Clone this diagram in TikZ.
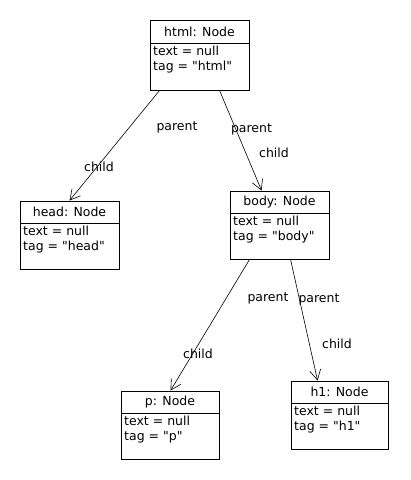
\documentclass[tikz,border=0pt]{standalone}
\usepackage{fontspec}
\newfontfamily\dvsans{DejaVu Sans}
\usetikzlibrary{arrows.meta,calc}
\begin{document}
\begin{tikzpicture}[x=1bp,y=-1bp,
  every node/.style={font=\dvsans\fontsize{12.5bp}{15.5bp}\selectfont, inner sep=0pt},
  umlbox/.style={draw, line width=0.9bp, minimum width=#1, minimum height=68bp},
  umlbox/.default=99bp,
  divider/.style={line width=0.9bp},
  title/.style={anchor=center},
  attrs/.style={anchor=north west, align=left},
  assoc/.style={draw, line width=0.6bp, -{Straight Barb[length=10bp,width=11bp,line width=0.6bp]}},
  lbl/.style={anchor=center}
]
\useasboundingbox (0,0) rectangle (410,480);
% html
\node[umlbox, minimum height=70bp] (html) at (199.5,55) {};
\draw[divider] (150,43) -- (249,43);
\node[title] (htmlt) at (199.5,31.5) {html: Node};
\node[attrs] (htmla) at (153,45.5) {text = null\\tag = "html"};
% head
\node[umlbox] (head) at (69.5,235) {};
\draw[divider] (20,223) -- (119,223);
\node[title] (headt) at (69.5,212) {head: Node};
\node[attrs] (heada) at (23,225.5) {text = null\\tag = "head"};
% body
\node[umlbox] (body) at (279.5,225) {};
\draw[divider] (230,213) -- (329,213);
\node[title] (bodyt) at (279.5,202) {body: Node};
\node[attrs] (bodya) at (233,215.5) {text = null\\tag = "body"};
% p
\node[umlbox, minimum width=98bp] (p) at (170,425) {};
\draw[divider] (121,413) -- (219,413);
\node[title] (pt) at (170,402) {p: Node};
\node[attrs] (pa) at (124,415.5) {text = null\\tag = "p"};
% h1
\node[umlbox, minimum width=97bp] (h1) at (339.5,415) {};
\draw[divider] (291,403) -- (388,403);
\node[title] (h1t) at (339.5,392) {h1: Node};
\node[attrs] (h1a) at (294,405.5) {text = null\\tag = "h1"};
% connectors
\draw[assoc] ($(html.south west)+(10,0)$) -- ($(head.north west)+(50,0)$);
\draw[assoc] ($(html.south west)+(70,0)$) -- ($(body.north west)+(32,0)$);
\draw[assoc] ($(body.south west)+(20,0)$) -- ($(p.north west)+(50,0)$);
\draw[assoc] ($(body.south west)+(61,0)$) -- ($(h1.north west)+(27,0)$);
% labels
\node[lbl] (l1) at (177,127) {parent};
\node[lbl] (l2) at (99,167) {child};
\node[lbl] (l3) at (251.5,129) {parent};
\node[lbl] (l4) at (274,153) {child};
\node[lbl] (l5) at (268,298) {parent};
\node[lbl] (l6) at (319,299) {parent};
\node[lbl] (l7) at (198,354) {child};
\node[lbl] (l8) at (337,344) {child};
\end{tikzpicture}
\end{document}
